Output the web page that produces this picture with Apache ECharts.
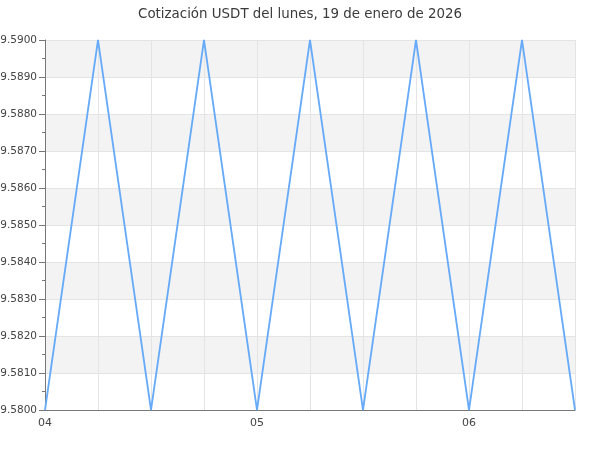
<!DOCTYPE html>
<html>
<head>
<meta charset="utf-8">
<script src="https://cdn.jsdelivr.net/npm/echarts@6/dist/echarts.min.js"></script>
<style>html,body{margin:0;padding:0;background:#fff}#c{width:600px;height:450px}</style>
</head>
<body>
<div id="c"></div>
<script>
const titleText = 'Cotización USDT del lunes, 19 de enero de 2026';
const times = ['04:00','04:15','04:30','04:45','05:00','05:15','05:30','05:45','06:00','06:15','06:30'];
const prices = [9.58, 9.59, 9.58, 9.59, 9.58, 9.59, 9.58, 9.59, 9.58, 9.59, 9.58];

function toMin(t){ const p = t.split(':'); return (+p[0])*60 + (+p[1]); }
const data = times.map((t,i)=>[toMin(t), prices[i]]);

const chart = echarts.init(document.getElementById('c'), null, {renderer:'canvas'});
chart.setOption({
  animation: false,
  backgroundColor: '#fff',
  title: {
    text: titleText, left: 'center', top: 3,
    textStyle: {fontFamily: 'DejaVu Sans', fontSize: 13.4, fontWeight: 'normal', color: '#3a3a3a'}
  },
  grid: {left: 45, right: 25, top: 40, bottom: 40, containLabel: false, outerBoundsMode: 'none'},
  xAxis: {
    type: 'value', min: 240, max: 390, interval: 15,
    axisLine: {show: true, lineStyle: {color: '#777'}},
    axisTick: {show: false},
    axisLabel: {
      fontFamily: 'DejaVu Sans', fontSize: 11, color: '#444', margin: 8,
      formatter: v => (v % 60 === 0) ? String(Math.floor(v/60)).padStart(2,'0') : '',
      showMaxLabel: false
    },
    splitLine: {show: true, lineStyle: {color: '#e4e4e4'}}
  },
  yAxis: {
    type: 'value', min: 9.58, max: 9.59, interval: 0.001,
    axisLine: {show: true, lineStyle: {color: '#777'}},
    axisTick: {show: true, length: 6, lineStyle: {color: '#777'}},
    minorTick: {show: true, splitNumber: 2, length: 3, lineStyle: {color: '#777'}},
    axisLabel: {
      fontFamily: 'DejaVu Sans', fontSize: 10.5, color: '#444', margin: 8,
      formatter: v => v.toFixed(4)
    },
    splitLine: {show: true, lineStyle: {color: '#e4e4e4'}},
    splitArea: {show: true, areaStyle: {color: ['rgba(255,255,255,0)', '#f3f3f3']}}
  },
  series: [{
    type: 'line', data: data, showSymbol: false, symbol: 'none',
    lineStyle: {color: '#66aaf8', width: 1.8}
  }]
});
</script>
</body>
</html>
